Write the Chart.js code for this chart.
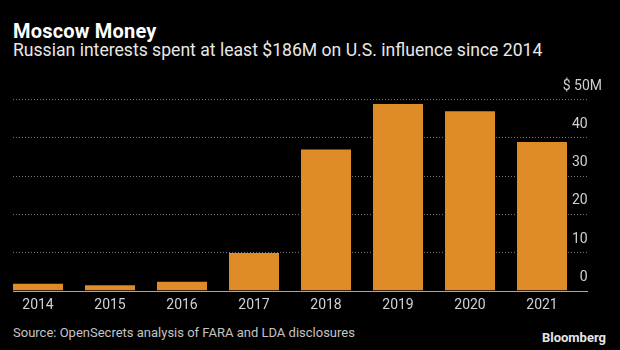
<!DOCTYPE html>
<html>
<head>
<meta charset="utf-8">
<script src="https://cdn.jsdelivr.net/npm/chart.js@4/dist/chart.umd.min.js"></script>
<style>
  html, body { margin: 0; padding: 0; background: #000; }
  #frame { position: relative; width: 620px; height: 350px; background: #000; overflow: hidden; font-family: Roboto, "Open Sans", sans-serif; }
  .txt { position: absolute; line-height: 1; white-space: nowrap; }
  #title { left: 13px; top: 21px; font-size: 20px; letter-spacing: 0.2px; font-weight: bold; color: #fff; }
  #subtitle { left: 13px; top: 42px; font-size: 17.6px; color: #e8e8e8; }
  #source { left: 13px; top: 326px; font-size: 13px; color: #c4c4c4; }
  #brand { right: 14px; top: 331px; font-size: 13px; font-weight: bold; color: #e6e6e6; }
  #wrap { position: absolute; left: 0; top: 60px; width: 620px; height: 263px; }
</style>
</head>
<body>
<div id="frame">
  <div id="title" class="txt">Moscow Money</div>
  <div id="subtitle" class="txt">Russian interests spent at least $186M on U.S. influence since 2014</div>
  <div id="wrap"><canvas id="chart"></canvas></div>
  <div id="source" class="txt">Source: OpenSecrets analysis of FARA and LDA disclosures</div>
  <div id="brand" class="txt">Bloomberg</div>
</div>
<script>
// spending by Russian interests, $ millions
const years = ['2014', '2015', '2016', '2017', '2018', '2019', '2020', '2021'];
const spending = [1.8, 1.4, 2.3, 9.8, 36.8, 48.7, 46.8, 38.8];
const yTickValues = [0, 10, 20, 30, 40, 50];
// numbers get a trailing em space so the "M" of the top label hangs out
const yTickLabels = ['0\u2003', '10\u2003', '20\u2003', '30\u2003', '40\u2003', '$ 50M'];

const barColor = '#DF8B27';

// dotted grid behind the bars, solid baseline on top
const gridPlugin = {
    id: 'bbgGrid',
    beforeDatasetsDraw(chart) {
        const { ctx, chartArea, scales: { y } } = chart;
        const first = chart.getDatasetMeta(0).data[0];
        const x0 = first.x - first.width / 2;
        const x1 = chartArea.right + 10;
        ctx.save();
        ctx.strokeStyle = '#747474';
        ctx.lineWidth = 1;
        ctx.setLineDash([1, 2]);
        yTickValues.forEach(v => {
            if (v === 0) return;
            const py = Math.round(y.getPixelForValue(v)) + 0.5;
            ctx.beginPath();
            ctx.moveTo(x0, py);
            ctx.lineTo(x1, py);
            ctx.stroke();
        });
        ctx.restore();
    },
    afterDatasetsDraw(chart) {
        const { ctx, chartArea, scales: { y } } = chart;
        const first = chart.getDatasetMeta(0).data[0];
        const x0 = first.x - first.width / 2;
        const py = Math.round(y.getPixelForValue(0)) + 0.5;
        ctx.save();
        ctx.strokeStyle = '#a8a8a8';
        ctx.lineWidth = 1;
        ctx.beginPath();
        ctx.moveTo(x0, py);
        ctx.lineTo(chartArea.right + 10, py);
        ctx.stroke();
        ctx.restore();
    }
};

new Chart(document.getElementById('chart'), {
    type: 'bar',
    data: {
        labels: years,
        datasets: [{
            data: spending,
            backgroundColor: barColor,
            borderWidth: 0,
            barPercentage: 50 / 72,
            categoryPercentage: 1
        }]
    },
    options: {
        responsive: true,
        maintainAspectRatio: false,
        animation: false,
        layout: { padding: { top: 39, left: 2, right: 18, bottom: 0 } },
        plugins: { legend: { display: false }, tooltip: { enabled: false } },
        scales: {
            x: {
                grid: { display: false, drawTicks: false },
                border: { display: false },
                ticks: {
                    color: '#d0d0d0',
                    padding: 6,
                    font: { family: 'Roboto', size: 14 }
                }
            },
            y: {
                position: 'right',
                min: 0,
                max: 50,
                grid: { display: false, drawTicks: false },
                border: { display: false },
                afterBuildTicks: s => { s.ticks = yTickValues.map(v => ({ value: v })); },
                afterFit: s => { s.width = 24; },
                ticks: {
                    color: '#d0d0d0',
                    mirror: true,
                    padding: 24,
                    labelOffset: -13,
                    font: { family: 'Roboto', size: 14 },
                    callback: (v, i) => yTickLabels[i]
                }
            }
        }
    },
    plugins: [gridPlugin]
});
</script>
</body>
</html>
